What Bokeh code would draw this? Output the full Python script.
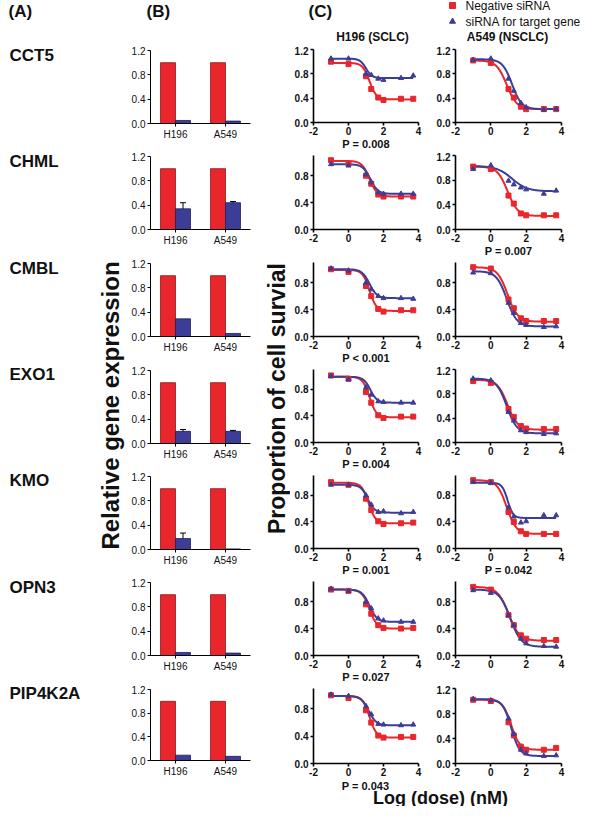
import numpy as np
from bokeh.plotting import figure
from bokeh.layouts import column, row
from bokeh.models import (Range1d, FixedTicker, PrintfTickFormatter, ColumnDataSource,
                          Whisker, Spacer)
from bokeh.transform import dodge
from bokeh.core.properties import value
from bokeh.embed import file_html
from bokeh.resources import INLINE

FONT = "Liberation Sans"
RED = "#E8262B"
RED_EDGE = "#8A1818"
BLUE = "#3B3D97"
BLUE_EDGE = "#1E1F55"
INK = "#111111"

# ---------------- data ----------------
genes = ["CCT5", "CHML", "CMBL", "EXO1", "KMO", "OPN3", "PIP4K2A"]
cell_lines = ["H196", "A549"]

# (B) relative gene expression
neg_expr = [[1.0, 1.0], [1.0, 1.0], [1.0, 1.0], [1.0, 1.0], [1.0, 1.0], [1.0, 1.0], [1.0, 1.0]]
target_expr = [[0.05, 0.04], [0.34, 0.44], [0.29, 0.05], [0.20, 0.20],
               [0.18, 0.01], [0.05, 0.04], [0.09, 0.07]]
target_err = [[0.0, 0.0], [0.10, 0.02], [0.0, 0.0], [0.03, 0.015],
              [0.09, 0.0], [0.0, 0.0], [0.0, 0.0]]

# (C) proportion of cell survival
log_dose = [-1, 0, 1, 1.3, 1.7, 2, 3, 3.7]
h196_neg = [
    [1.00, 0.96, 0.76, 0.55, 0.41, 0.37, 0.39, 0.39],
    [1.03, 0.98, 0.80, 0.68, 0.52, 0.49, 0.49, 0.49],
    [1.00, 0.96, 0.75, 0.60, 0.41, 0.37, 0.39, 0.39],
    [1.01, 0.96, 0.76, 0.60, 0.41, 0.37, 0.39, 0.39],
    [1.00, 0.96, 0.75, 0.58, 0.41, 0.37, 0.38, 0.39],
    [0.98, 0.96, 0.76, 0.62, 0.45, 0.41, 0.40, 0.41],
    [1.00, 0.96, 0.78, 0.60, 0.41, 0.38, 0.39, 0.39],
]
h196_tgt = [
    [1.05, 1.05, 0.80, 0.78, 0.72, 0.70, 0.73, 0.77],
    [0.97, 0.95, 0.82, 0.70, 0.55, 0.53, 0.53, 0.53],
    [1.01, 0.98, 0.80, 0.70, 0.60, 0.57, 0.57, 0.56],
    [1.00, 0.95, 0.83, 0.72, 0.62, 0.61, 0.60, 0.60],
    [0.96, 0.96, 0.80, 0.66, 0.55, 0.56, 0.53, 0.55],
    [0.99, 0.96, 0.80, 0.70, 0.55, 0.52, 0.50, 0.50],
    [1.01, 0.99, 0.84, 0.72, 0.58, 0.57, 0.56, 0.57],
]
a549_neg = [
    [1.02, 0.98, 0.55, 0.41, 0.26, 0.22, 0.22, 0.22],
    [1.02, 0.98, 0.55, 0.42, 0.26, 0.23, 0.23, 0.23],
    [1.03, 1.01, 0.55, 0.42, 0.27, 0.23, 0.23, 0.23],
    [1.01, 0.98, 0.55, 0.42, 0.27, 0.23, 0.22, 0.22],
    [1.03, 1.00, 0.55, 0.40, 0.26, 0.22, 0.22, 0.22],
    [1.02, 0.98, 0.60, 0.45, 0.30, 0.25, 0.23, 0.23],
    [1.02, 1.00, 0.66, 0.45, 0.27, 0.22, 0.22, 0.25],
]
a549_tgt = [
    [1.03, 1.05, 0.72, 0.52, 0.32, 0.25, 0.21, 0.22],
    [0.98, 1.04, 0.79, 0.73, 0.68, 0.65, 0.58, 0.63],
    [0.95, 0.94, 0.50, 0.35, 0.20, 0.17, 0.14, 0.15],
    [1.05, 1.02, 0.50, 0.36, 0.20, 0.17, 0.14, 0.15],
    [1.00, 0.99, 0.62, 0.48, 0.39, 0.41, 0.50, 0.50],
    [0.97, 0.93, 0.60, 0.45, 0.25, 0.18, 0.14, 0.13],
    [1.03, 1.01, 0.72, 0.47, 0.22, 0.16, 0.12, 0.13],
]
# fitted sigmoid parameters: (top, bottom, logEC50, hill)
h196_neg_fit = [(0.98, 0.38, 1.2, 2.2), (1.02, 0.49, 1.2, 2.0), (0.99, 0.38, 1.2, 2.2),
                (0.99, 0.38, 1.2, 2.2), (0.99, 0.38, 1.15, 2.2), (0.98, 0.40, 1.2, 2.0),
                (0.99, 0.38, 1.2, 2.2)]
h196_tgt_fit = [(1.05, 0.73, 1.0, 2.5), (0.97, 0.53, 1.25, 2.0), (1.00, 0.57, 1.2, 2.0),
                (0.99, 0.60, 1.25, 2.2), (0.96, 0.54, 1.1, 2.2), (0.98, 0.50, 1.2, 2.0),
                (0.99, 0.56, 1.15, 2.0)]
a549_neg_fit = [(1.02, 0.22, 0.9, 1.5), (1.02, 0.22, 0.95, 1.5), (1.03, 0.22, 0.95, 1.5),
                (1.03, 0.21, 0.95, 1.5), (1.03, 0.22, 0.9, 1.6), (1.02, 0.22, 1.0, 1.4),
                (1.02, 0.22, 1.15, 1.8)]
a549_tgt_fit = [(1.04, 0.22, 1.2, 1.6), (1.03, 0.62, 1.2, 1.0), (0.97, 0.15, 0.9, 1.5),
                (1.05, 0.15, 0.9, 1.5), (0.99, 0.46, 0.95, 2.8), (0.98, 0.13, 1.1, 1.4),
                (1.03, 0.12, 1.15, 1.8)]
p_h196 = ["P = 0.008", "", "P < 0.001", "P = 0.004", "P = 0.001", "P = 0.027", "P = 0.043"]
p_a549 = ["", "P = 0.007", "", "", "P = 0.042", "", ""]
ymax_h196 = [1.2, 1.1, 1.1, 1.1, 1.1, 1.1, 1.1]
ymax_a549 = [1.2, 1.2, 1.1, 1.2, 1.1, 1.1, 1.2]
dose_ticks = [-2, 0, 2, 4]
surv_ticks = [0.0, 0.4, 0.8, 1.2]
expr_ticks = [0.0, 0.4, 0.8, 1.2]

# ---------------- layout constants ----------------
band_h = [106, 107, 107, 106, 106, 107, 94]
FOOT_H = 27
HEADER_H = 46
BODY_H = sum(band_h) + FOOT_H
C_TOP = 3
C_FRAME = 75


def canvas(w, h):
    p = figure(width=w, height=h, x_range=Range1d(0, w), y_range=Range1d(0, h),
               x_axis_type=None, y_axis_type=None, output_backend="svg",
               toolbar_location=None, min_border=0, outline_line_color=None)
    p.grid.visible = False
    return p


def put_text(p, h, x, y, txt, size, bold=True, align="left", angle=0.0):
    p.text(x=[x], y=[h - y], text=[txt], text_font=value(FONT),
           text_font_style="bold" if bold else "normal", text_font_size=size,
           text_align=align, text_baseline="middle", text_color=INK, angle=angle)


def style_axes(p, size, bold, width):
    for ax in (p.xaxis[0], p.yaxis[0]):
        ax.axis_line_width = width
        ax.axis_line_color = "black"
        ax.major_tick_line_width = width
        ax.major_tick_line_color = "black"
        ax.major_tick_out = 3
        ax.major_tick_in = 0
        ax.minor_tick_line_color = None
        ax.major_label_text_font = FONT
        ax.major_label_text_font_size = size
        ax.major_label_text_font_style = "bold" if bold else "normal"
        ax.major_label_text_color = INK
        ax.major_label_standoff = 2
    p.grid.visible = False
    p.outline_line_color = None


def bar_fig(k):
    h = band_h[k]
    p = figure(width=132, height=h, x_range=cell_lines, y_range=Range1d(0, 1.2),
               output_backend="svg", toolbar_location=None,
               min_border_left=22, min_border_right=10, min_border_top=4,
               min_border_bottom=h - 77)
    src = ColumnDataSource(dict(cell=cell_lines, neg=neg_expr[k], tgt=target_expr[k]))
    p.vbar(x=dodge("cell", -0.15, range=p.x_range), top="neg", width=0.3, source=src,
           fill_color=RED, line_color=RED_EDGE, line_width=0.8)
    p.vbar(x=dodge("cell", 0.15, range=p.x_range), top="tgt", width=0.3, source=src,
           fill_color=BLUE, line_color=BLUE_EDGE, line_width=0.8)
    ec, lo, hi = [], [], []
    for c, v, e in zip(cell_lines, target_expr[k], target_err[k]):
        if e > 0:
            ec.append(c); lo.append(v - e); hi.append(v + e)
    if ec:
        esrc = ColumnDataSource(dict(cell=ec, lo=lo, hi=hi))
        w = Whisker(base=dodge("cell", 0.15, range=p.x_range), lower="lo", upper="hi",
                    source=esrc, line_color="black", line_width=1)
        w.upper_head.size = 6
        w.lower_head.size = 6
        w.upper_head.line_color = "black"
        w.lower_head.line_color = "black"
        p.add_layout(w)
    p.yaxis.ticker = FixedTicker(ticks=expr_ticks)
    p.yaxis.formatter = PrintfTickFormatter(format="%.1f")
    style_axes(p, "10px", False, 1)
    return p


def sigmoid(xs, fit):
    top, bottom, ec50, hill = fit
    return bottom + (top - bottom) / (1.0 + 10.0 ** ((xs - ec50) * hill))


def dose_fig(k, neg, tgt, negfit, tgtfit, ymax, ptxt, width, rb, show_p=True):
    h = band_h[k]
    p = figure(width=width, height=h, x_range=Range1d(-2, 4), y_range=Range1d(0, ymax),
               output_backend="svg", toolbar_location=None,
               min_border_left=23, min_border_right=rb, min_border_top=C_TOP,
               min_border_bottom=h - C_TOP - C_FRAME)
    xs = np.linspace(min(log_dose), max(log_dose), 150)
    p.line(xs, sigmoid(xs, negfit), line_color=RED, line_width=2)
    p.line(xs, sigmoid(xs, tgtfit), line_color=BLUE, line_width=2)
    p.scatter(log_dose, neg, marker="square", size=5, fill_color=RED, line_color=RED)
    p.scatter(log_dose, tgt, marker="triangle", size=5, fill_color=BLUE, line_color=BLUE)
    p.xaxis.ticker = FixedTicker(ticks=dose_ticks, minor_ticks=[])
    p.xaxis.formatter = PrintfTickFormatter(format="%d")
    p.yaxis.ticker = FixedTicker(ticks=surv_ticks, minor_ticks=[])
    p.yaxis.formatter = PrintfTickFormatter(format="%.1f")
    style_axes(p, "10px", True, 1.6)
    p.xaxis.major_label_standoff = 1
    if ptxt and show_p:
        ax = p.xaxis[0]
        ax.axis_label = ptxt
        ax.axis_label_standoff = 0
        ax.axis_label_text_font = FONT
        ax.axis_label_text_font_style = "bold"
        ax.axis_label_text_font_size = "11px"
        ax.axis_label_text_color = INK
    return p


# ---------------- header ----------------
hdr = canvas(584, HEADER_H)
put_text(hdr, HEADER_H, 8, 11, "(A)", "17px")
put_text(hdr, HEADER_H, 146, 11, "(B)", "17px")
put_text(hdr, HEADER_H, 308, 11, "(C)", "17px")
hdr.scatter([452], [HEADER_H - 5], marker="square", size=6, fill_color=RED, line_color=RED)
hdr.scatter([452], [HEADER_H - 21], marker="triangle", size=6, fill_color=BLUE, line_color=BLUE)
put_text(hdr, HEADER_H, 465, 5, "Negative siRNA", "12px", bold=False)
put_text(hdr, HEADER_H, 465, 21, "siRNA for target gene", "12px", bold=False)
put_text(hdr, HEADER_H, 372, 36, "H196 (SCLC)", "12px", align="center")
put_text(hdr, HEADER_H, 507, 36, "A549 (NSCLC)", "12px", align="center")

# ---------------- left column ----------------
left = canvas(128, BODY_H)
for k, g in enumerate(genes):
    put_text(left, BODY_H, 9, 9 + 106.3 * k, g, "17px")
put_text(left, BODY_H, 110, 359, "Relative gene expression", "24px", align="center",
         angle=np.pi / 2)

mid = canvas(30, BODY_H)
put_text(mid, BODY_H, 16, 352, "Proportion of cell survial", "23px", align="center",
         angle=np.pi / 2)

bars = column([bar_fig(k) for k in range(7)] + [Spacer(width=132, height=FOOT_H)])

dose_rows = []
for k in range(7):
    last = (k == 6)
    c1 = dose_fig(k, h196_neg[k], h196_tgt[k], h196_neg_fit[k], h196_tgt_fit[k],
                  ymax_h196[k], p_h196[k], 142, 14, show_p=not last)
    c2 = dose_fig(k, a549_neg[k], a549_tgt[k], a549_neg_fit[k], a549_tgt_fit[k],
                  ymax_a549[k], p_a549[k], 152, 23, show_p=not last)
    dose_rows.append(row(c1, c2))

# footer: P value of the last H196 panel and the shared x-axis title
foot = canvas(294, FOOT_H)
put_text(foot, FOOT_H, 75, 6, p_h196[6], "11px", align="center")
put_text(foot, FOOT_H, 150, 18, "Log (dose) (nM)", "18px", align="center")
dose_col = column(dose_rows + [foot])

page = column(hdr, row(left, bars, mid, dose_col))

open("out.html", "w").write(file_html(page, INLINE))
